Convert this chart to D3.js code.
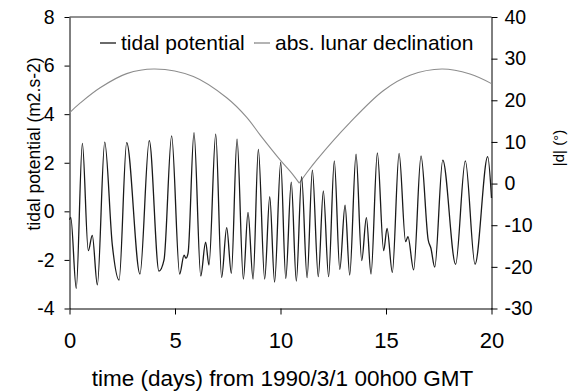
<!DOCTYPE html>
<html>
<head>
<meta charset="utf-8">
<script src="https://cdn.jsdelivr.net/npm/d3@7"></script>
<style>
    body { margin: 0; background: #fff; }
    text { font-family: Arial, "Liberation Sans", sans-serif; fill: #000; }
</style>
</head>
<body>
<div id="chart"></div>
<script>
// tidal potential (day, m2.s-2)
const tideDays = [0.00, 0.06, 0.32, 0.61, 0.89, 1.08, 1.32, 1.67, 2.03, 2.35, 2.71, 3.34, 3.78, 4.24, 4.48, 4.84,
    5.22, 5.43, 5.52, 5.62, 5.90, 6.22, 6.45, 6.61, 6.93, 7.21, 7.45, 7.67, 7.94, 8.24, 8.46, 8.70, 8.95, 9.25,
    9.49, 9.72, 10.01, 10.25, 10.51, 10.75, 11.00, 11.26, 11.51, 11.79, 12.03, 12.28, 12.55, 12.81, 13.06, 13.28,
    13.58, 13.85, 14.07, 14.29, 14.59, 14.89, 15.05, 15.30, 15.62, 15.93, 16.04, 16.31, 16.66, 17.00, 17.13, 17.31,
    17.69, 18.30, 18.76, 19.22, 19.82, 20.00];
const tideValues = [-0.35, -0.25, -3.17, 2.80, -1.62, -0.99, -3.03, 2.85, -1.39, -2.83, 2.83, -2.58, 2.91, -2.46, -2.0, 3.11,
    -2.58, -1.80, -1.93, -1.72, 3.24, -2.66, -1.27, -2.21, 3.18, -2.72, -0.67, -2.55, 2.97, -2.79, -0.04, -2.79, 2.55, -2.79,
    0.60, -2.91, 2.02, -2.76, 1.20, -2.87, 1.43, -2.73, 1.70, -2.69, 0.84, -2.69, 2.08, -2.39, 0.25, -2.62,
    2.35, -2.03, -0.26, -2.58, 2.41, -1.62, -0.70, -2.51, 2.39, -1.25, -1.04, -2.41, 2.28, -1.18, -1.52, -2.30,
    2.11, -2.18, 2.08, -2.18, 2.25, 0.55];

// absolute lunar declination (day, degrees)
const declDays = [0, 0.5, 1.45, 2.71, 4.05, 5.87, 7.45, 8.4, 9.03, 9.98, 10.55, 10.89, 11.2, 11.72, 13.3, 14.87, 16.14, 17.65, 18.98, 20];
const declValues = [17.0, 19.3, 23.0, 26.4, 27.5, 25.7, 20.6, 15.9, 11.7, 5.7, 2.4, 0.1, 2.3, 5.7, 14.7, 22.3, 26.0, 27.5, 26.3, 24.0];

const xTicks = [0, 5, 10, 15, 20];
const leftTicks = [-4, -2, 0, 2, 4, 6, 8];
const rightTicks = [-30, -20, -10, 0, 10, 20, 30, 40];
const seriesNames = ["tidal potential", "abs. lunar declination"];

const width = 570;
const height = 392;
const margin = { left: 69.5, right: 78.5, top: 17, bottom: 83.5 };

const svg = d3
    .select("#chart")
    .append("svg")
    .attr("width", width)
    .attr("height", height);

const x = d3.scaleLinear().domain([0, 20]).range([margin.left, width - margin.right]);
const yLeft = d3.scaleLinear().domain([-4, 8]).range([height - margin.bottom, margin.top]);
const yRight = d3.scaleLinear().domain([-30, 40]).range([height - margin.bottom, margin.top]);

// plain hyphen for negatives, like the original
const fmt = d => String(d);

// top frame line
svg.append("line")
    .attr("x1", x(0)).attr("x2", x(20))
    .attr("y1", margin.top).attr("y2", margin.top)
    .attr("stroke", "#222");

// axes
const xAxis = svg.append("g")
    .attr("transform", "translate(0," + (height - margin.bottom) + ")")
    .call(d3.axisBottom(x).tickValues(xTicks).tickFormat(fmt).tickSize(6).tickSizeOuter(0).tickPadding(18));
const leftAxis = svg.append("g")
    .attr("transform", "translate(" + margin.left + ",0)")
    .call(d3.axisLeft(yLeft).tickValues(leftTicks).tickFormat(fmt).tickSize(5).tickSizeOuter(0).tickPadding(10));
const rightAxis = svg.append("g")
    .attr("transform", "translate(" + (width - margin.right) + ",0)")
    .call(d3.axisRight(yRight).tickValues(rightTicks).tickFormat(fmt).tickSize(6).tickSizeOuter(0).tickPadding(7));

[xAxis, leftAxis, rightAxis].forEach(a => {
    a.select(".domain").attr("stroke", "#000");
    a.selectAll(".tick line").attr("stroke", "#000");
    a.selectAll("text").attr("font-family", "Arial, 'Liberation Sans', sans-serif").attr("fill", "#000");
});
xAxis.selectAll("text").attr("font-size", "22px");
leftAxis.selectAll("text").attr("font-size", "19.5px");
rightAxis.selectAll("text").attr("font-size", "19.5px");

// lines
const tideLine = d3.line()
    .x(d => x(d[0]))
    .y(d => yLeft(d[1]))
    .curve(d3.curveMonotoneX);

const declLine = d3.line()
    .x(d => x(d[0]))
    .y(d => yRight(d[1]))
    .curve(d3.curveCatmullRom.alpha(0.5));

// the |declination| curve has a sharp corner at its minimum: draw it as two smooth pieces
const declPoints = declDays.map((d, i) => [d, declValues[i]]);
const iMin = d3.minIndex(declValues);
const declPieces = [declPoints.slice(0, iMin + 1), declPoints.slice(iMin)];

svg.selectAll(".decl")
    .data(declPieces)
    .enter()
    .append("path")
    .attr("class", "decl")
    .attr("d", declLine)
    .attr("fill", "none")
    .attr("stroke", "#8c8c8c")
    .attr("stroke-width", 1.1);

svg.append("path")
    .attr("d", tideLine(tideDays.map((d, i) => [d, tideValues[i]])))
    .attr("fill", "none")
    .attr("stroke", "#1a1a1a")
    .attr("stroke-width", 1.3);

// legend
const legendItems = [
    { name: seriesNames[0], color: "#1a1a1a", x: 100 },
    { name: seriesNames[1], color: "#8c8c8c", x: 254 }
];

const legend = svg.selectAll(".legend")
    .data(legendItems)
    .enter()
    .append("g")
    .attr("class", "legend")
    .attr("transform", d => "translate(" + d.x + ",43)");

legend.append("line")
    .attr("x1", 0).attr("x2", 16)
    .attr("stroke", d => d.color)
    .attr("stroke-width", 1.3);

legend.append("text")
    .attr("x", 21)
    .attr("y", 7)
    .attr("font-size", "21px")
    .text(d => d.name);

// axis titles
svg.append("text")
    .attr("x", (x(0) + x(20)) / 2 + 2)
    .attr("y", 385.5)
    .attr("text-anchor", "middle")
    .attr("font-size", "22.5px")
    .text("time (days) from 1990/3/1 00h00 GMT");

svg.append("text")
    .attr("transform", "translate(40,144) rotate(-90)")
    .attr("text-anchor", "middle")
    .attr("font-size", "17.5px")
    .text("tidal potential (m2.s-2)");

svg.append("text")
    .attr("transform", "translate(563.5,148) rotate(-90)")
    .attr("text-anchor", "middle")
    .attr("font-size", "15px")
    .text("|d| (°)");
</script>
</body>
</html>
